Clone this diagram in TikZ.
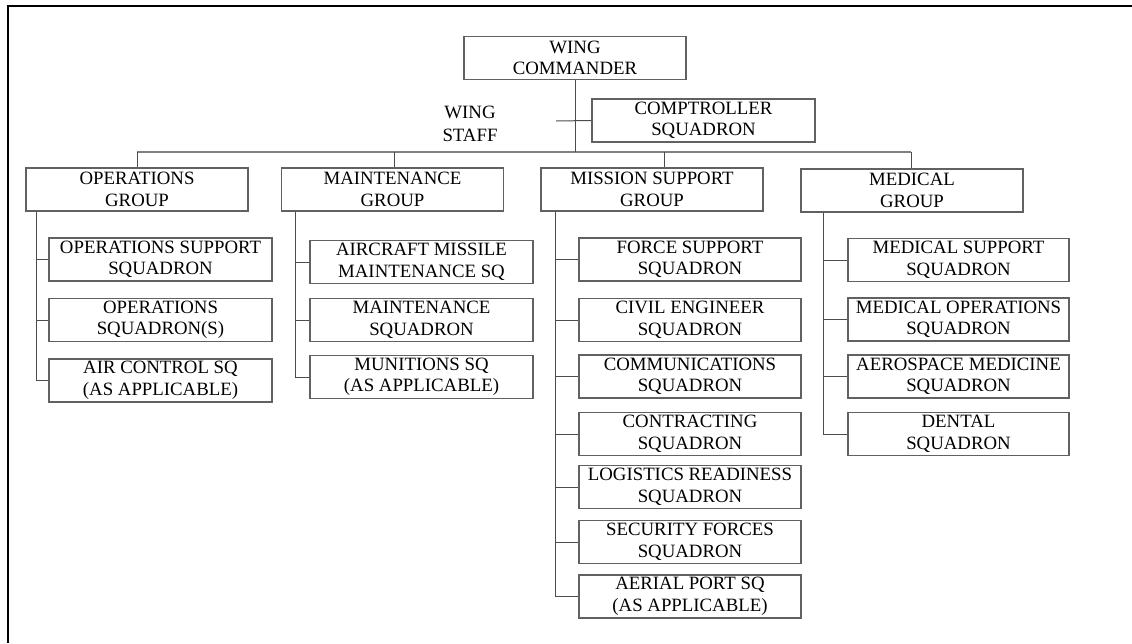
\documentclass[tikz,border=0pt]{standalone}
\usepackage{fontspec}
\setmainfont{Liberation Serif}
\begin{document}
\begin{tikzpicture}[x=1pt,y=-1pt,
  unit/.style={draw=black!62,line width=1.1pt,rectangle,inner sep=0pt,
    minimum width=222pt,minimum height=43pt,align=center,
    font=\fontsize{18.8}{21.5}\selectfont,text=black},
  link/.style={draw=black!70,line width=1pt},
  bus/.style={draw=black!50,line width=1.2pt},
  frame/.style={draw=black,line width=2pt}]
\useasboundingbox (0,0) rectangle (1132,643);

% page frame (top and left edges)
\coordinate (fbl) at (8,643);
\coordinate (ftl) at (8,6);
\coordinate (ftr) at (1132,6);
\draw[frame] (fbl) -- (ftl) -- (ftr);

% headquarters
\node[unit] (cmd) at (575,58) {WING\\COMMANDER};
\node[unit,minimum width=223pt] (cpt) at (703.5,120.5) {COMPTROLLER\\SQUADRON};
\node[align=center,font=\fontsize{18.8}{22.5}\selectfont,text=black] (staff) at (470,124) {WING\\STAFF};

% groups
\node[unit] (ops) at (137,189.5) {OPERATIONS\\GROUP};
\node[unit] (mxg) at (392.5,189.5) {MAINTENANCE\\GROUP};
\node[unit] (msg) at (652,189.5) {MISSION SUPPORT\\GROUP};
\node[unit] (mdg) at (912,190.5) {MEDICAL\\GROUP};

% operations squadrons
\node[unit,minimum width=223pt] (oss) at (160.5,259.5) {OPERATIONS SUPPORT\\SQUADRON};
\node[unit,minimum width=223pt] (osq) at (160.5,320) {OPERATIONS\\SQUADRON(S)};
\node[unit,minimum width=223pt] (acs) at (160.5,380.5) {AIR CONTROL SQ\\(AS APPLICABLE)};

% maintenance squadrons
\node[unit,minimum width=223pt] (amx) at (421.5,262) {AIRCRAFT MISSILE\\MAINTENANCE SQ};
\node[unit,minimum width=223pt] (mxs) at (421.5,320) {MAINTENANCE\\SQUADRON};
\node[unit,minimum width=223pt] (mun) at (421.5,377) {MUNITIONS SQ\\(AS APPLICABLE)};

% mission support squadrons
\node[unit] (fss) at (690,259.5) {FORCE SUPPORT\\SQUADRON};
\node[unit] (ces) at (690,320) {CIVIL ENGINEER\\SQUADRON};
\node[unit] (cs)  at (690,376.5) {COMMUNICATIONS\\SQUADRON};
\node[unit] (cons) at (690,434) {CONTRACTING\\SQUADRON};
\node[unit] (lrs) at (690,487) {LOGISTICS READINESS\\SQUADRON};
\node[unit] (sfs) at (690,542) {SECURITY FORCES\\SQUADRON};
\node[unit] (aps) at (690,596.5) {AERIAL PORT SQ\\(AS APPLICABLE)};

% medical squadrons
\node[unit,minimum width=221pt] (mdss) at (958.5,260) {MEDICAL SUPPORT\\SQUADRON};
\node[unit,minimum width=221pt] (mdos) at (958.5,319.5) {MEDICAL OPERATIONS\\SQUADRON};
\node[unit,minimum width=221pt] (amds) at (958.5,376.5) {AEROSPACE MEDICINE\\SQUADRON};
\node[unit,minimum width=221pt] (ds)   at (958.5,434) {DENTAL\\SQUADRON};

% command line and group bus
\coordinate (busL) at (137,152);
\coordinate (busR) at (911,152);
\coordinate (staffL) at (556,121);
\draw[bus] (busL) -- (busR);
\draw[link] (cmd.south) -- (cmd.south |- busL);
\draw[link] (staffL) -- (cpt.west);
\draw[link] (ops.north) -- (ops.north |- busL);
\draw[link] ([xshift=1.5pt]mxg.north) -- ([xshift=1.5pt]mxg.north |- busL);
\draw[link] ([xshift=12pt]msg.north) -- ([xshift=12pt]msg.north |- busL);
\draw[link] ([xshift=-1pt]mdg.north) -- ([xshift=-1pt]mdg.north |- busL);

% trunks to squadrons
\foreach \c in {oss,osq,acs}
  \draw[link] ([xshift=11pt]ops.south west) |- (\c.west);
\foreach \c in {amx,mxs,mun}
  \draw[link] ([xshift=15pt]mxg.south west) |- (\c.west);
\foreach \c in {fss,ces,cs,cons,lrs,sfs,aps}
  \draw[link] ([xshift=15pt]msg.south west) |- (\c.west);
\foreach \c in {mdss,mdos,amds,ds}
  \draw[link] ([xshift=23pt]mdg.south west) |- (\c.west);
\end{tikzpicture}
\end{document}
